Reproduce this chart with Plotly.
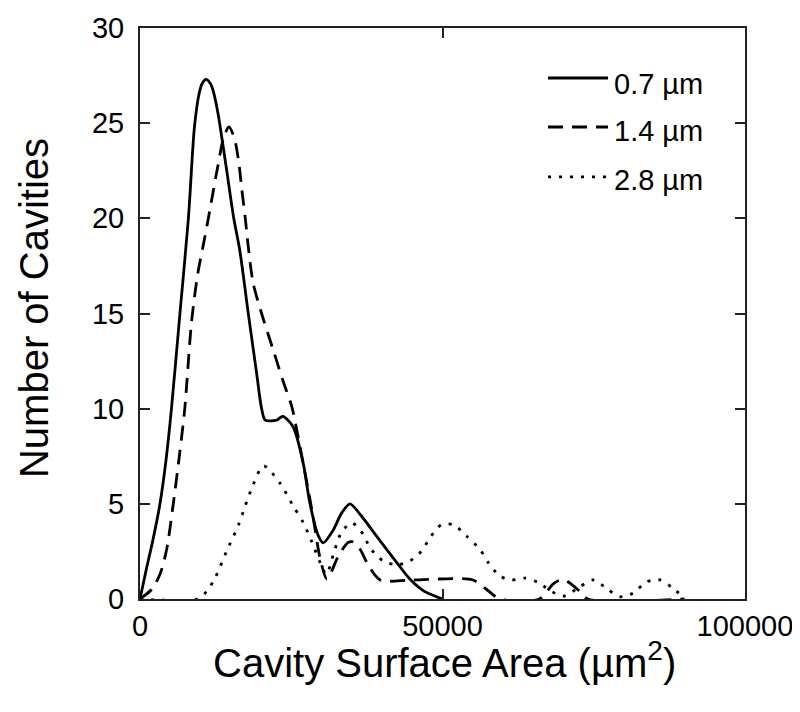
import plotly.graph_objects as go

# Cavity counts, one curve per resolution
series_names = ["0.7 µm", "1.4 µm", "2.8 µm"]

area_07 = [0, 1000, 2200, 3300, 4300, 5200, 6600, 8000, 9000, 9800, 10300, 10900, 11600,
           12100, 12900, 14200, 15500, 16500, 17900, 19300, 20100, 20700, 22600, 23600,
           25300, 27000, 28100, 29500, 30300, 31900, 33300, 34700, 36500, 39100, 42000,
           44600, 47000, 49600, 50000]
count_07 = [0, 1.5, 3.2, 5.0, 7.3, 10, 15, 20, 24.8, 26.6, 27.1, 27.3, 27.1,
            26.7, 25.5, 22.8, 20, 18.3, 15, 11.8, 10, 9.4, 9.4, 9.6,
            9.05, 7.1, 5.0, 3.3, 2.95, 3.6, 4.5, 5.0, 4.4, 3.3, 2.1,
            1.05, 0.4, 0.05, 0]

area_14 = [0, 1900, 3300, 4400, 5500, 6500, 7400, 8500, 9500, 10400, 11300, 12200, 12900,
           13800, 14700, 15600, 16300, 16800, 17400, 17900, 18700, 20100, 22000, 23700,
           25100, 25900, 28400, 29800, 30900, 32800, 34400, 35200, 36400, 37700, 39700,
           45000, 55000, 57300, 59500, 66000, 68300, 69500, 70500, 72700, 74000, 90000]
count_14 = [0, 0.5, 1.3, 2.6, 5.0, 7.5, 10, 14.5, 17, 18.5, 20, 21.6, 22.8,
            24.2, 24.8, 24.2, 23, 21.6, 20, 18.5, 16.6, 15, 13.1, 11.4,
            10.1, 8.9, 4.7, 2.1, 1.05, 2.27, 2.97, 3.0, 2.6, 1.8, 1.0,
            1.0, 1.0, 0.5, 0, 0, 0.8, 1.0, 0.95, 0.4, 0, 0]

area_28 = [0, 9500, 11000, 12400, 14300, 16300, 17400, 18700, 20400, 23100, 25300,
           27000, 28400, 29800, 30800, 32200, 33300, 35000, 36900, 38000, 40200, 42400,
           44600, 46500, 47900, 49800, 51800, 54000, 56200, 57600, 59500, 61400, 63600,
           65800, 68000, 70000, 72500, 74900, 77100, 79300, 81500, 83700, 86000, 88100,
           90000]
count_28 = [0, 0, 0.4, 1.1, 2.5, 3.9, 4.9, 6.0, 7.0, 6.1, 4.9,
            4.0, 3.0, 1.9, 1.3, 2.6, 3.5, 4.0, 3.4, 2.7, 2.0, 1.8,
            2.0, 2.5, 3.2, 3.9, 3.9, 3.3, 2.6, 1.9, 1.2, 1.0, 1.1,
            0.87, 0.4, 0.15, 0.6, 1.0, 0.56, 0.12, 0.31, 0.9, 1.0, 0.56,
            0.05]

x_ticks = [0, 50000, 100000]
y_ticks = [0, 5, 10, 15, 20, 25, 30]

dashes = ["solid", "15px,9px", "3px,8px"]
data = [(area_07, count_07), (area_14, count_14), (area_28, count_28)]

fig = go.Figure()
for (xs, ys), name, dash in zip(data, series_names, dashes):
    fig.add_trace(go.Scatter(
        x=xs, y=ys, name=name, mode="lines",
        line=dict(color="black", width=2.8, dash=dash, shape="spline", smoothing=0.8),
        showlegend=False,
    ))

# hand-made legend (longer line samples than plotly's own legend)
legend_y_line = [0.9124, 0.8266, 0.7391]
legend_y_text = [0.9028, 0.8196, 0.7338]
for name, dash, yl, yt in zip(series_names, dashes, legend_y_line, legend_y_text):
    fig.add_shape(type="line", xref="paper", yref="paper",
                  x0=0.6744, x1=0.7736, y0=yl, y1=yl,
                  line=dict(color="black", width=2.8, dash=dash))
    fig.add_annotation(x=0.7802, y=yt, xref="paper", yref="paper", text=name,
                       showarrow=False, xanchor="left", yanchor="middle",
                       font=dict(size=29, color="black"))

# axis titles placed by hand
fig.add_annotation(x=0.504, y=-0.1068, xref="paper", yref="paper",
                   text="Cavity Surface Area (µm<sup>2</sup>)", showarrow=False,
                   xanchor="center", yanchor="middle", font=dict(size=40, color="black"))
fig.add_annotation(x=-0.1752, y=0.5096, xref="paper", yref="paper",
                   text="Number of Cavities", showarrow=False, textangle=-90,
                   xanchor="center", yanchor="middle", font=dict(size=40, color="black"))

axis_style = dict(
    showline=True, linecolor="#222", linewidth=2, mirror="ticks",
    ticks="inside", ticklen=10, tickwidth=1.5, tickcolor="#222",
    showgrid=False, zeroline=False, automargin=False,
    tickfont=dict(size=29, color="black"),
)

fig.update_xaxes(range=[0, 100000], tickvals=x_ticks, ticktext=[str(v) for v in x_ticks],
                 ticklabelstandoff=0, **axis_style)
fig.update_yaxes(range=[0, 30], tickvals=y_ticks, ticklabelstandoff=8, **axis_style)

# page body adds an 8px offset, so margins are trimmed by 8 on the left/top
fig.update_layout(
    width=800, height=712,
    margin=dict(l=132, r=63, t=20, b=121),
    plot_bgcolor="white", paper_bgcolor="white",
    font=dict(family="Liberation Sans, Arial, sans-serif", color="black"),
)

fig.write_html("out.html")
